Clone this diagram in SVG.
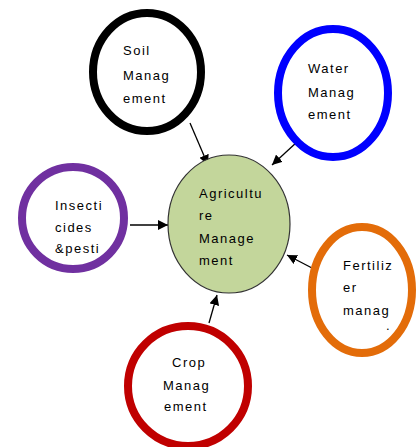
<svg xmlns="http://www.w3.org/2000/svg" width="420" height="447" viewBox="0 0 420 447">
<defs>
<marker id="ah" viewBox="0 0 10 10" refX="10" refY="5" markerWidth="10" markerHeight="10" markerUnits="userSpaceOnUse" orient="auto">
<path d="M0,0 L10,5 L0,10 z" fill="#000"/>
</marker>
<style>
.ring{fill:#fff;stroke-width:8}
.t{font-family:"Liberation Sans",Arial,sans-serif;font-size:13px;letter-spacing:1.5px;fill:#000}
.c{stroke:#000;stroke-width:1.3;fill:none;marker-end:url(#ah)}
</style>
</defs>
<rect width="420" height="447" fill="#fff"/>
<g id="connectors">
<line class="c" x1="190" y1="123" x2="208" y2="165"/>
<line class="c" x1="297" y1="142" x2="272" y2="165"/>
<line class="c" x1="130" y1="225" x2="168" y2="225"/>
<line class="c" x1="312" y1="268" x2="287" y2="255"/>
<line class="c" x1="209" y1="323" x2="217" y2="295"/>
</g>
<g id="agri">
<ellipse cx="229" cy="224" rx="61" ry="69" fill="#c3d69b" stroke="#333" stroke-width="1.2"/>
<text class="t" x="199" y="198">Agricultu</text>
<text class="t" x="199" y="220">re</text>
<text class="t" x="199" y="243">Manage</text>
<text class="t" x="199" y="265">ment</text>
</g>
<g id="soil">
<ellipse class="ring" cx="147" cy="72" rx="54" ry="59" stroke="#000"/>
<text class="t" x="123" y="55">Soil</text>
<text class="t" x="123" y="80">Manag</text>
<text class="t" x="123" y="103">ement</text>
</g>
<g id="water">
<ellipse class="ring" cx="333" cy="93" rx="55" ry="64" stroke="#0000ff"/>
<text class="t" x="308" y="73">Water</text>
<text class="t" x="308" y="97">Manag</text>
<text class="t" x="308" y="119">ement</text>
</g>
<g id="insect">
<ellipse class="ring" cx="73" cy="218" rx="51" ry="51" stroke="#7030a0"/>
<text class="t" x="55" y="210">Insecti</text>
<text class="t" x="55" y="232">cides</text>
<text class="t" x="55" y="253">&amp;pesti</text>
</g>
<g id="fert">
<ellipse class="ring" cx="362" cy="290" rx="50" ry="63" stroke="#e36c09"/>
<text class="t" x="343" y="270">Fertiliz</text>
<text class="t" x="343" y="292">er</text>
<text class="t" x="343" y="315">manag</text>
<text class="t" x="386" y="330">.</text>
</g>
<g id="crop">
<ellipse class="ring" cx="188" cy="386" rx="60" ry="60" stroke="#c00000"/>
<text class="t" x="172" y="367">Crop</text>
<text class="t" x="163" y="390">Manag</text>
<text class="t" x="164" y="411">ement</text>
</g>
</svg>
